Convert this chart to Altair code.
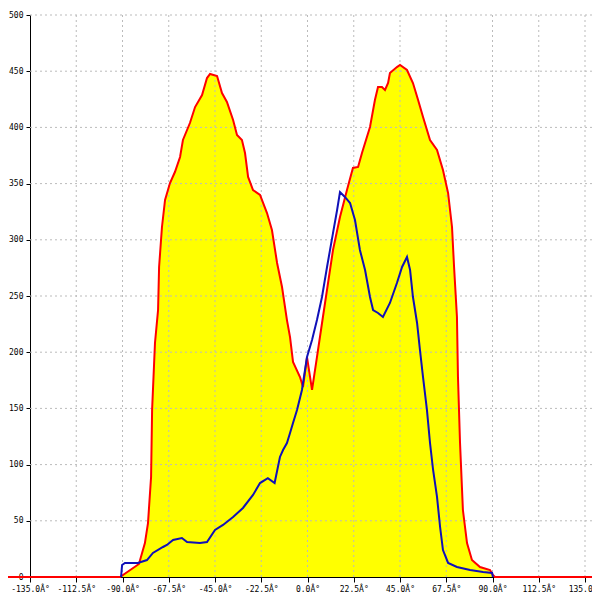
import altair as alt
import pandas as pd

# Red / yellow series (angle in degrees, count)
red_deg = [-150, -91.2, -82.0, -79.1, -77.6, -76.1, -75.6, -74.2, -72.7, -72.2, -70.8, -69.3, -66.9,
           -64.5, -62.0, -60.6, -57.2, -54.7, -51.3, -48.9, -47.4, -44.0, -41.6, -39.2, -36.2,
           -34.3, -31.9, -30.4, -28.9, -26.5, -23.1, -19.7, -17.3, -14.8, -12.4, -10.0, -8.5,
           -7.05, -3.65, -2.2, -0.24, 2.2, 4.6, 7.5, 12.4, 15.8, 19.2, 22.1, 24.6, 26.5, 30.4,
           32.8, 34.3, 36.2, 37.7, 39.2, 40.1, 43.5, 45.0, 48.4, 51.3, 53.8, 56.2, 59.6, 63.0,
           65.9, 68.4, 70.3, 71.3, 72.7, 73.2, 74.2, 75.6, 77.6, 80.0, 83.9, 88.8, 90.2, 91.2, 150]
red_val = [0, 0, 11.6, 30.2, 48.0, 89.0, 148.6, 208.2, 237.5, 275.8, 311.4, 335.4, 350.5,
           360.3, 373.7, 388.8, 403.9, 418.1, 428.8, 443.9, 447.5, 445.7, 430.6, 422.6, 406.6,
           393.2, 388.8, 377.2, 355.9, 344.3, 339.9, 323.8, 308.7, 279.4, 258.0, 228.6, 213.5,
           191.3, 177.9, 169.0, 195.7, 166.4, 195.7, 231.3, 290.9, 320.3, 344.3, 363.9, 364.8, 377.2, 400.4,
           424.4, 435.9, 435.9, 433.3, 439.5, 448.4, 453.7, 455.5, 451.1, 439.5, 424.4, 409.3, 388.8, 379.9,
           362.1, 341.6, 311.4, 275.8, 231.3, 177.9, 119.2, 59.6, 30.2, 15.1, 8.9, 6.2, 1.8, 0, 0]

# Blue series
blue_deg = [-90.7, -90.2, -88.8, -82.5, -78.1, -75.2, -70.3, -68.4, -65.4, -61.1, -58.6, -52.3,
            -48.9, -45.0, -41.1, -36.2, -31.4, -26.5, -23.1, -19.3, -16.0, -13.4, -11.9, -10.0,
            -8.5, -7.05, -5.1, -2.7, -0.24, 2.2, 4.6, 7.05, 9.5, 12.4, 14.4, 15.8, 18.2, 20.7,
            23.1, 25.5, 28.0, 30.4, 31.9, 34.3, 36.7, 40.1, 43.5, 46.0, 48.4, 49.9, 51.3, 53.3,
            54.7, 56.2, 58.1, 59.6, 61.1, 63.0, 64.5, 65.9, 68.4, 72.7, 79.1, 85.4, 89.8, 90.2]
blue_val = [0, 10.7, 12.5, 12.5, 15.1, 21.4, 26.7, 28.5, 32.9, 34.7, 31.1, 30.2,
            31.1, 41.8, 46.3, 53.4, 61.4, 73.0, 83.6, 88.0, 83.6, 106.8, 113.0, 119.2,
            128.1, 137.0, 148.6, 166.4, 195.7, 210.9, 228.6, 249.1, 275.8, 306.0, 326.5, 342.5, 338.1, 332.7,
            317.6, 290.9, 273.1, 249.1, 237.5, 234.9, 231.3, 243.8, 261.6, 275.8, 284.7, 273.1, 249.1, 226.0,
            202.0, 177.9, 148.6, 119.2, 95.2, 71.2, 44.5, 24.0, 12.5, 8.9, 6.2, 4.4, 3.6, 0]

x_ticks = [-135, -112.5, -90, -67.5, -45, -22.5, 0, 22.5, 45, 67.5, 90, 112.5, 135]
y_ticks = [0, 50, 100, 150, 200, 250, 300, 350, 400, 450, 500]

red_df = pd.DataFrame({"deg": red_deg, "val": red_val})
blue_df = pd.DataFrame({"deg": blue_deg, "val": blue_val})
xg_df = pd.DataFrame({"deg": x_ticks[1:]})
yg_df = pd.DataFrame({"val": y_ticks[1:]})

FONT = "DejaVu Sans Mono"

def xenc():
    return alt.X("deg:Q",
                 scale=alt.Scale(domain=[-135, 138.4], nice=False, zero=False),
                 axis=alt.Axis(values=x_ticks, grid=False, title=None,
                               labelExpr="(datum.value < 0 ? '-' : '') + format(abs(datum.value), '.1f') + 'Â°'",
                               labelFont=FONT, labelFontSize=8, labelColor="black",
                               labelFlush=False, labelBound=False,
                               tickColor="black", domainColor="black", tickSize=5,
                               labelPadding=3, labelOverlap=False))

def yenc():
    return alt.Y("val:Q",
                 scale=alt.Scale(domain=[0, 500], nice=False),
                 axis=alt.Axis(values=y_ticks, grid=False, title=None, format="d",
                               labelFont=FONT, labelFontSize=8, labelColor="black",
                               labelFlush=False,
                               tickColor="black", domainColor="black", tickSize=4,
                               labelPadding=3, labelOverlap=False))

area = alt.Chart(red_df).mark_area(color="#ffff00", opacity=1).encode(x=xenc(), y=yenc())
xgrid = alt.Chart(xg_df).mark_rule(color="#bbbbbb", strokeDash=[2, 3], strokeWidth=1).encode(x=xenc())
ygrid = alt.Chart(yg_df).mark_rule(color="#bbbbbb", strokeDash=[2, 3], strokeWidth=1).encode(y=yenc())
red_line = alt.Chart(red_df).mark_line(color="#ff0000", strokeWidth=2).encode(x=xenc(), y=yenc())
blue_line = alt.Chart(blue_df).mark_line(color="#1010b8", strokeWidth=2).encode(x=xenc(), y=yenc())

chart = alt.layer(area, xgrid, ygrid, red_line, blue_line).properties(
    width=562, height=562,
    autosize=alt.AutoSizeParams(type="none"),
    padding={"left": 22, "top": 7, "right": 0, "bottom": 15},
    background="white",
).configure_view(stroke=None)

chart.save("out.html", embed_options={"renderer": "svg", "actions": False})
